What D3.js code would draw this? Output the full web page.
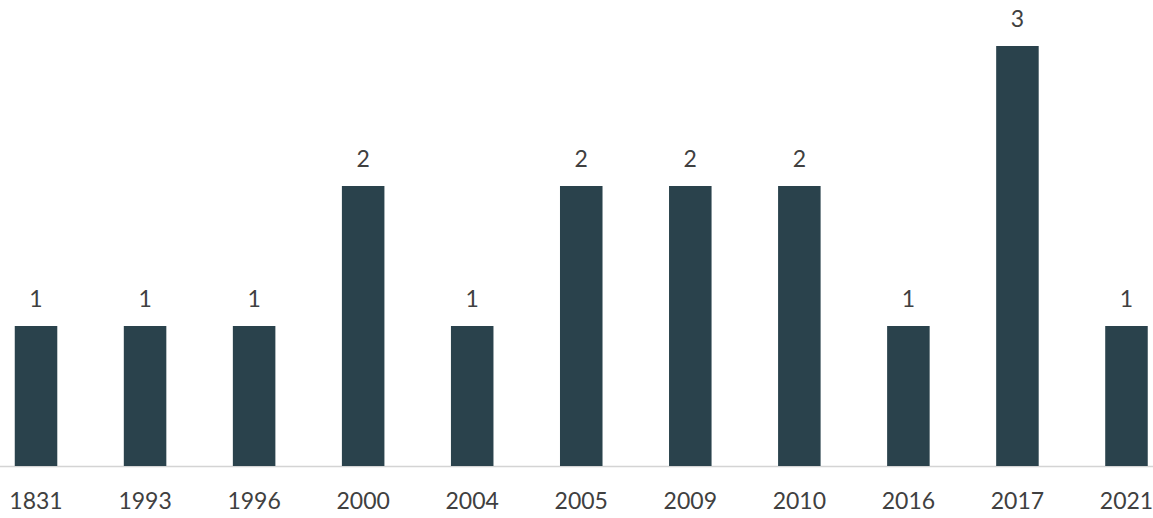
<!DOCTYPE html>
<html><head><meta charset="utf-8">
<script src="https://cdn.jsdelivr.net/npm/d3@7"></script>
<style>body{margin:0;background:#fff}svg{display:block}</style>
</head><body>
<svg id="c" width="1153" height="518"></svg>
<script>
const years = ["1831","1993","1996","2000","2004","2005","2009","2010","2016","2017","2021"];
const counts = [1,1,1,2,1,2,2,2,1,3,1];

const svg = d3.select("#c");
const x = d3.scaleBand().domain(years).range([-18.5, 1181]).paddingInner(0.61).paddingOuter(0.305);
const y = d3.scaleLinear().domain([0,3]).range([466,46]);
const font = "Lato, 'Open Sans', sans-serif";

svg.append("line").attr("x1",0).attr("x2",1153).attr("y1",y(0)+0.5).attr("y2",y(0)+0.5)
  .attr("stroke","#d4d4d4").attr("stroke-width",1.5);

svg.selectAll("rect.bar").data(years).join("rect").attr("class","bar")
  .attr("x",d=>x(d)).attr("width",x.bandwidth())
  .attr("y",(d,i)=>y(counts[i])).attr("height",(d,i)=>y(0)-y(counts[i]))
  .attr("fill","#2a424c");

svg.selectAll("text.val").data(years).join("text").attr("class","val")
  .attr("x",d=>x(d)+x.bandwidth()/2).attr("y",(d,i)=>y(counts[i])-19)
  .attr("text-anchor","middle").attr("font-family",font)
  .attr("font-size",23).attr("fill","#404040").text((d,i)=>counts[i]);

const ax = svg.append("g").attr("transform",`translate(0,${y(0)})`)
  .call(d3.axisBottom(x).tickSize(0).tickPadding(43));
ax.select(".domain").remove();
ax.selectAll("text").attr("dy",0).attr("font-family",font).attr("font-size",23).attr("fill","#404040");
</script>
</body></html>
